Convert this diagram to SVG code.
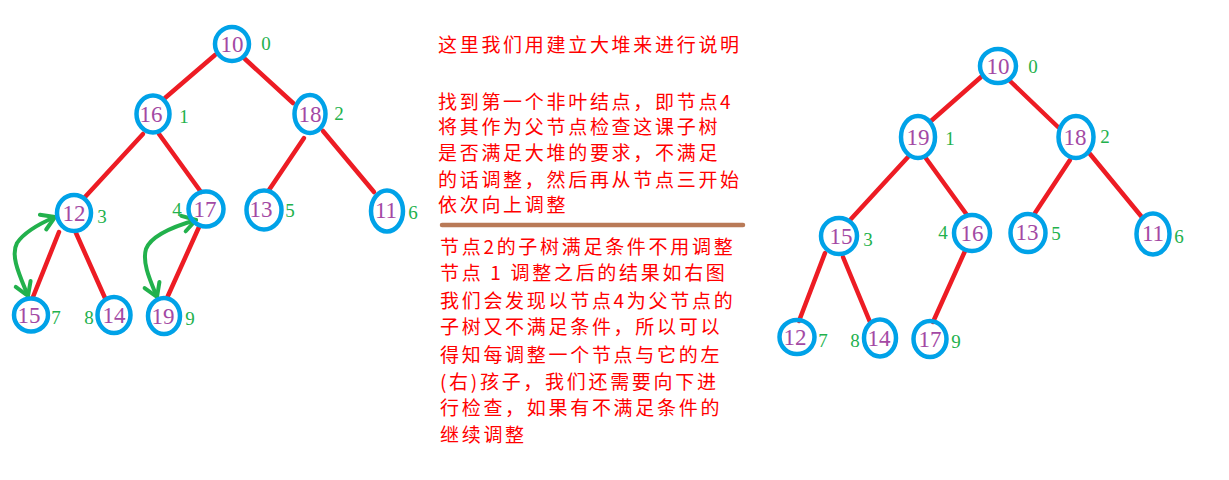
<svg xmlns="http://www.w3.org/2000/svg" width="1229" height="480" viewBox="0 0 1229 480">
<style>
.node ellipse{fill:none;stroke:#00a2e8;stroke-width:4.5}
.node text.v{font-family:"Liberation Serif",serif;font-size:23px;fill:#a349a4;text-anchor:middle}
.node text.i{font-family:"Liberation Serif",serif;font-size:19px;fill:#22b14c;text-anchor:middle}
.edges line{stroke:#ed1c24;stroke-width:4.5;stroke-linecap:round}
.arrows path{fill:none;stroke:#22b14c;stroke-width:4;stroke-linecap:round}
.note{font-family:"Noto Sans CJK SC","Liberation Sans",sans-serif;font-size:19px;letter-spacing:2.7px;fill:#ff0000}
</style>
<defs>
<marker id="ah" viewBox="-16 -11 20 22" refX="0" refY="0" markerWidth="20" markerHeight="22" markerUnits="userSpaceOnUse" orient="auto-start-reverse">
<path d="M-13,-8 L0,0 L-13,8" fill="none" stroke="#22b14c" stroke-width="4" stroke-linecap="round" stroke-linejoin="round"/>
</marker>
</defs>
<rect width="1229" height="480" fill="#fff"/>

<g id="edges-left" class="edges">
<line x1="215" y1="55" x2="165" y2="98"/>
<line x1="245" y1="59" x2="293" y2="103"/>
<line x1="143" y1="134" x2="85" y2="197"/>
<line x1="159" y1="134" x2="201" y2="192"/>
<line x1="304" y1="138" x2="269" y2="190"/>
<line x1="323" y1="131" x2="374" y2="192"/>
<line x1="59" y1="232" x2="33" y2="297"/>
<line x1="76" y1="233" x2="105" y2="298"/>
<line x1="199" y1="227" x2="167" y2="298"/>
</g>
<g id="edges-right" class="edges">
<line x1="981" y1="77" x2="931" y2="121"/>
<line x1="1010" y1="81" x2="1058" y2="127"/>
<line x1="908" y1="157" x2="851" y2="219"/>
<line x1="925" y1="157" x2="967" y2="215"/>
<line x1="1070" y1="160" x2="1035" y2="213"/>
<line x1="1090" y1="154" x2="1141" y2="216"/>
<line x1="825" y1="253" x2="799" y2="321"/>
<line x1="843" y1="257" x2="870" y2="322"/>
<line x1="965" y1="251" x2="933" y2="322"/>
</g>
<g id="swap-arrows" class="arrows">
<path d="M28,296 C20,276 10,256 17,243 C25,231 41,223 55,217" marker-start="url(#ah)" marker-end="url(#ah)"/>
<path d="M157,297 C150,280 142,263 146,249 C151,236 175,226 196,220" marker-start="url(#ah)" marker-end="url(#ah)"/>
</g>

<g id="L0" class="node"><ellipse cx="232" cy="44" rx="17" ry="17"/><text class="v" x="232" y="52">10</text><text class="i" x="266" y="50">0</text></g>
<g id="L1" class="node"><ellipse cx="153" cy="114" rx="16.5" ry="18.5"/><text class="v" x="151" y="122">16</text><text class="i" x="184" y="123">1</text></g>
<g id="L2" class="node"><ellipse cx="310" cy="114" rx="15.5" ry="19"/><text class="v" x="310" y="122">18</text><text class="i" x="339" y="120">2</text></g>
<g id="L3" class="node"><ellipse cx="74" cy="213" rx="17" ry="18"/><text class="v" x="74" y="221">12</text><text class="i" x="102" y="223">3</text></g>
<g id="L4" class="node"><ellipse cx="206" cy="209" rx="17.5" ry="17.5"/><text class="v" x="205" y="217">17</text><text class="i" x="177" y="216">4</text></g>
<g id="L5" class="node"><ellipse cx="264" cy="210" rx="17.5" ry="19.5"/><text class="v" x="261" y="217">13</text><text class="i" x="290" y="217">5</text></g>
<g id="L6" class="node"><ellipse cx="387" cy="211" rx="16" ry="20.5"/><text class="v" x="386" y="218">11</text><text class="i" x="413" y="219">6</text></g>
<g id="L7" class="node"><ellipse cx="31" cy="315" rx="17" ry="16.5"/><text class="v" x="29" y="323">15</text><text class="i" x="56" y="324">7</text></g>
<g id="L8" class="node"><ellipse cx="114" cy="315" rx="16.5" ry="18"/><text class="v" x="114" y="323">14</text><text class="i" x="89" y="324">8</text></g>
<g id="L9" class="node"><ellipse cx="164" cy="316" rx="16" ry="18"/><text class="v" x="163" y="324">19</text><text class="i" x="190" y="325">9</text></g>

<g id="R0" class="node"><ellipse cx="998" cy="66" rx="18" ry="17"/><text class="v" x="998" y="74">10</text><text class="i" x="1033" y="73">0</text></g>
<g id="R1" class="node"><ellipse cx="918" cy="137" rx="17" ry="21"/><text class="v" x="918" y="145">19</text><text class="i" x="950" y="145">1</text></g>
<g id="R2" class="node"><ellipse cx="1076" cy="137" rx="17.5" ry="21"/><text class="v" x="1075" y="145">18</text><text class="i" x="1105" y="143">2</text></g>
<g id="R3" class="node"><ellipse cx="839" cy="236" rx="18" ry="18"/><text class="v" x="841" y="244">15</text><text class="i" x="868" y="246">3</text></g>
<g id="R4" class="node"><ellipse cx="972" cy="233" rx="18" ry="18"/><text class="v" x="972" y="241">16</text><text class="i" x="943" y="239">4</text></g>
<g id="R5" class="node"><ellipse cx="1028" cy="233" rx="17.5" ry="19"/><text class="v" x="1027" y="240">13</text><text class="i" x="1056" y="240">5</text></g>
<g id="R6" class="node"><ellipse cx="1153" cy="234" rx="16.5" ry="20.5"/><text class="v" x="1153" y="241">11</text><text class="i" x="1179" y="243">6</text></g>
<g id="R7" class="node"><ellipse cx="797" cy="337" rx="17.5" ry="17"/><text class="v" x="795" y="345">12</text><text class="i" x="823" y="347">7</text></g>
<g id="R8" class="node"><ellipse cx="880" cy="338" rx="16" ry="18.5"/><text class="v" x="879" y="346">14</text><text class="i" x="855" y="347">8</text></g>
<g id="R9" class="node"><ellipse cx="930" cy="339" rx="16.5" ry="18"/><text class="v" x="930" y="347">17</text><text class="i" x="956" y="348">9</text></g>

<g id="notes">
<text class="note" x="438" y="52">这里我们用建立大堆来进行说明</text>
<text class="note" x="438" y="109">找到第一个非叶结点，即节点4</text>
<text class="note" x="438" y="134">将其作为父节点检查这课子树</text>
<text class="note" x="438" y="160">是否满足大堆的要求，不满足</text>
<text class="note" x="438" y="187">的话调整，然后再从节点三开始</text>
<text class="note" x="438" y="212">依次向上调整</text>
<line x1="442" y1="225" x2="743" y2="225" stroke="#b97a57" stroke-width="4.5" stroke-linecap="round"/>
<text class="note" x="440" y="254">节点2的子树满足条件不用调整</text>
<text class="note" x="440" y="280">节点 1 调整之后的结果如右图</text>
<text class="note" x="440" y="308">我们会发现以节点4为父节点的</text>
<text class="note" x="440" y="334">子树又不满足条件，所以可以</text>
<text class="note" x="440" y="362">得知每调整一个节点与它的左</text>
<text class="note" x="440" y="389">(右)孩子，我们还需要向下进</text>
<text class="note" x="440" y="415">行检查，如果有不满足条件的</text>
<text class="note" x="440" y="442">继续调整</text>
</g>
</svg>
